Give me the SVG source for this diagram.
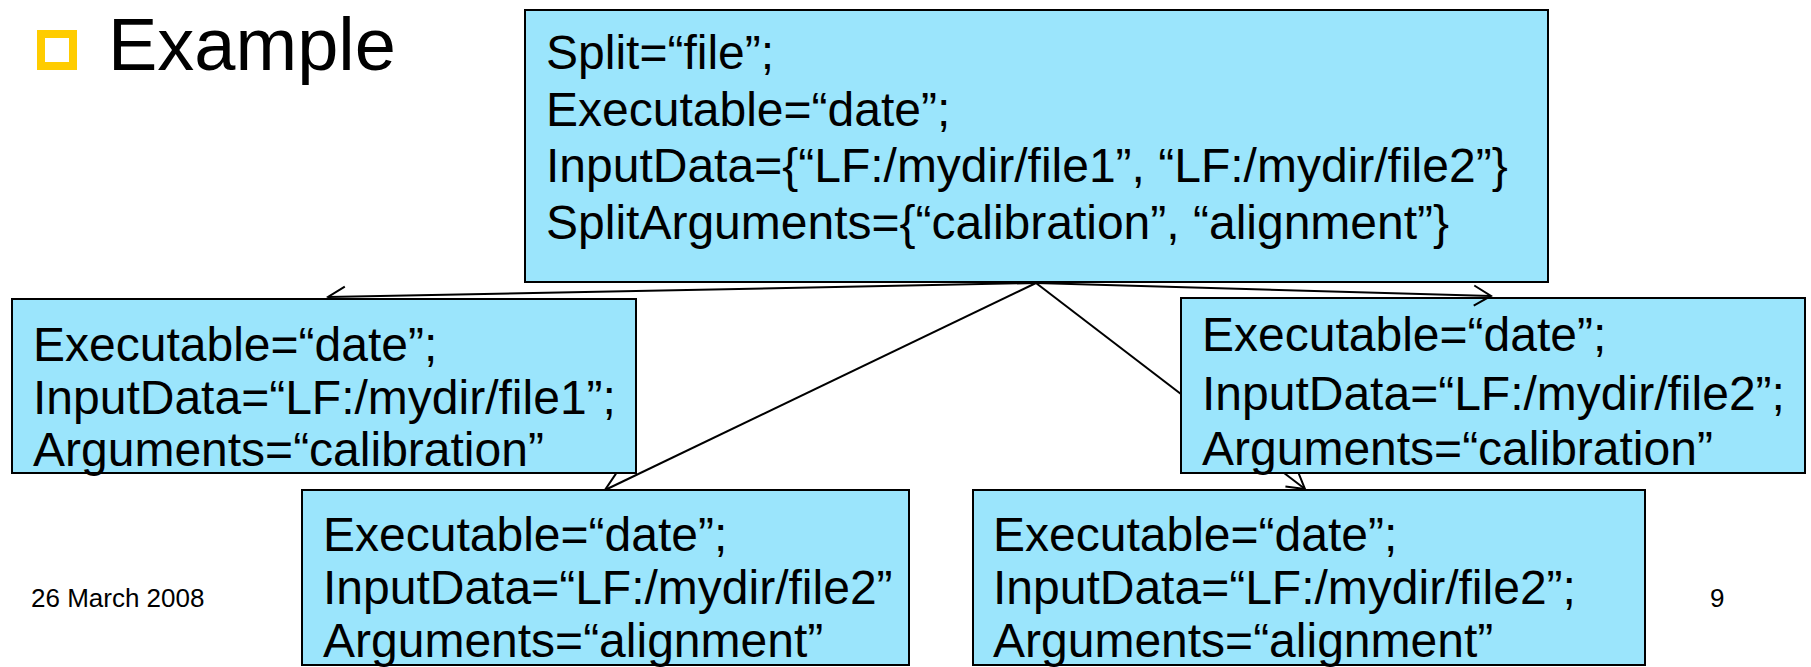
<svg xmlns="http://www.w3.org/2000/svg" width="1811" height="667" viewBox="0 0 1811 667">
  <style>
    .box { fill: #9BE5FC; stroke: #000; stroke-width: 2; }
    .t { font-family: "Liberation Sans", Arial, sans-serif; font-size: 48px; fill: #000; }
    .foot { font-family: "Liberation Sans", Arial, sans-serif; font-size: 26px; fill: #000; }
    .edge { stroke: #000; stroke-width: 2; fill: none; marker-end: url(#arrow); }
  </style>
  <defs>
    <marker id="arrow" markerUnits="userSpaceOnUse" viewBox="-20 -12 22 24" refX="0" refY="0" markerWidth="22" markerHeight="24" orient="auto">
      <path d="M-17,-10 L0,0 L-17,10" fill="none" stroke="#000" stroke-width="2"/>
    </marker>
    <!-- everything except the right-hand calibration box, so the long edge runs behind it -->
    <clipPath id="outside-right-box">
      <path clip-rule="evenodd" d="M0,0 H1811 V667 H0 Z M1181,298 H1805 V473 H1181 Z"/>
    </clipPath>
  </defs>
  <rect width="1811" height="667" fill="#fff"/>

  <!-- title bullet -->
  <g id="title">
    <rect x="41" y="34" width="32" height="32" fill="none" stroke="#FFCC00" stroke-width="8"/>
    <text x="108" y="70" font-family="Liberation Sans, Arial, sans-serif" font-size="74">Example</text>
  </g>

  <!-- split job description -->
  <g id="split-job">
    <rect class="box" x="525" y="10" width="1023" height="272"/>
    <text class="t" x="546" y="69">Split=“file”;</text>
    <text class="t" x="546" y="126">Executable=“date”;</text>
    <text class="t" x="546" y="182">InputData={“LF:/mydir/file1”, “LF:/mydir/file2”}</text>
    <text class="t" x="546" y="239">SplitArguments={“calibration”, “alignment”}</text>
  </g>

  <g id="job-file2-calibration">
    <rect class="box" x="1181" y="298" width="624" height="175"/>
    <text class="t" x="1202" y="351">Executable=“date”;</text>
    <text class="t" x="1202" y="410">InputData=“LF:/mydir/file2”;</text>
    <text class="t" x="1202" y="465">Arguments=“calibration”</text>
  </g>

  <!-- connectors from the split job to each sub-job -->
  <g id="connectors">
    <line class="edge" x1="1036" y1="283" x2="328" y2="297"/>
    <line class="edge" x1="1036" y1="283" x2="1491" y2="296"/>
    <line class="edge" x1="1036" y1="283" x2="605" y2="490"/>
    <line class="edge" x1="1036" y1="283" x2="1305" y2="489" clip-path="url(#outside-right-box)"/>
  </g>

  <g id="job-file1-calibration">
    <rect class="box" x="12" y="299" width="624" height="174"/>
    <text class="t" x="33" y="361">Executable=“date”;</text>
    <text class="t" x="33" y="414">InputData=“LF:/mydir/file1”;</text>
    <text class="t" x="33" y="466">Arguments=“calibration”</text>
  </g>

  <g id="job-file2-alignment-a">
    <rect class="box" x="302" y="490" width="607" height="175"/>
    <text class="t" x="323" y="551">Executable=“date”;</text>
    <text class="t" x="323" y="604">InputData=“LF:/mydir/file2”</text>
    <text class="t" x="323" y="657">Arguments=“alignment”</text>
  </g>

  <g id="job-file2-alignment-b">
    <rect class="box" x="973" y="490" width="672" height="175"/>
    <text class="t" x="993" y="551">Executable=“date”;</text>
    <text class="t" x="993" y="604">InputData=“LF:/mydir/file2”;</text>
    <text class="t" x="993" y="657">Arguments=“alignment”</text>
  </g>

  <!-- footer -->
  <g id="footer">
    <text class="foot" x="31" y="607">26 March 2008</text>
    <text class="foot" x="1710" y="607">9</text>
  </g>
</svg>
